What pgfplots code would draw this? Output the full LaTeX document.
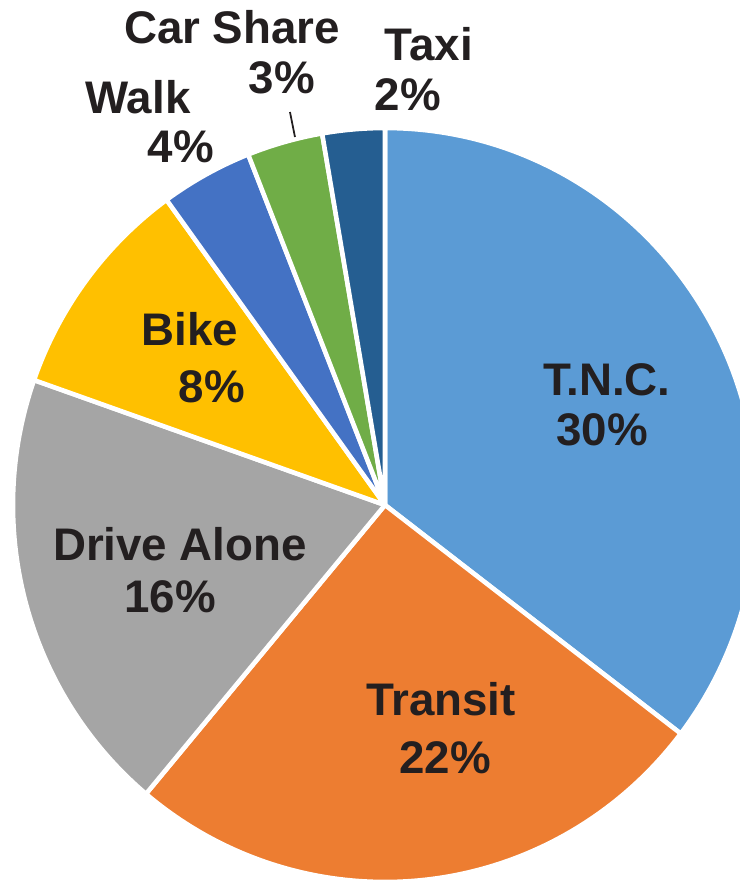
\documentclass[border=0pt]{standalone}
\usepackage{pgfplots}
\usepackage{pgfplotstable}
\pgfplotsset{compat=1.18}
\usepackage{fontspec}
\setmainfont{Liberation Sans}
\definecolor{cTNC}{HTML}{5B9BD5}
\definecolor{cTransit}{HTML}{ED7D31}
\definecolor{cDrive}{HTML}{A5A5A5}
\definecolor{cBike}{HTML}{FFC000}
\definecolor{cWalk}{HTML}{4472C4}
\definecolor{cCar}{HTML}{70AD47}
\definecolor{cTaxi}{HTML}{255E91}
\definecolor{txt}{HTML}{231F20}
\tikzset{lab/.style={anchor=base, inner sep=0pt, text=txt,
    font=\bfseries\fontsize{13pt}{15pt}\selectfont}}

% slice sizes as read from the slice angles of the picture
\pgfplotstableread{
mode value colour
TNC 30.1 cTNC
Transit 21.9 cTransit
DriveAlone 16.4 cDrive
Bike 8.2 cBike
Walk 3.4 cWalk
CarShare 2.8 cCar
Taxi 2.3 cTaxi
}\piedata

% slice angles computed from the table (outside the axis)
\newcommand{\computeslices}{%
  \gdef\total{0}%
  \pgfplotsforeachungrouped \i in {0,...,6}{%
    \pgfplotstablegetelem{\i}{value}\of\piedata
    \pgfmathparse{\total+\pgfplotsretval}\xdef\total{\pgfmathresult}%
  }%
  \gdef\cum{0}%
  \pgfplotsforeachungrouped \i in {0,...,6}{%
    \pgfplotstablegetelem{\i}{value}\of\piedata \let\val\pgfplotsretval
    \pgfmathparse{90-360*(\cum/\total)}\expandafter\xdef\csname sA\i\endcsname{\pgfmathresult}%
    \pgfmathparse{\cum+\val}\xdef\cum{\pgfmathresult}%
    \pgfmathparse{90-360*(\cum/\total)}\expandafter\xdef\csname eA\i\endcsname{\pgfmathresult}%
  }%
}

\begin{document}
\begin{tikzpicture}
\computeslices
\begin{axis}[at={(0,0)}, anchor=south west, scale only axis,
  width=7.4cm, height=8.85cm,
  xmin=0, xmax=740, ymin=0, ymax=885, y dir=reverse,
  hide axis, clip=true]
\pgfplotsforeachungrouped \i in {0,...,6}{%
  \pgfplotstablegetelem{\i}{colour}\of\piedata \let\col\pgfplotsretval
  \edef\temp{\noexpand\filldraw[fill=\col, draw=white, line width=1.3pt, line join=round]
    (axis cs:385,505) -- ++(\csname sA\i\endcsname:3.72cm and 3.77cm)
    arc[start angle=\csname sA\i\endcsname, end angle=\csname eA\i\endcsname, x radius=3.72cm, y radius=3.77cm] -- cycle;}%
  \temp
}
\draw[txt, line width=0.5pt] (axis cs:290,112) -- (axis cs:295,137);
\node[lab] at (axis cs:607,395) {T.N.C.};
\node[lab] at (axis cs:602,445) {30\%};
\node[lab] at (axis cs:441,715) {Transit};
\node[lab] at (axis cs:445,773) {22\%};
\node[lab] at (axis cs:180,560) {Drive Alone};
\node[lab] at (axis cs:170,612) {16\%};
\node[lab] at (axis cs:190,345) {Bike};
\node[lab] at (axis cs:212,402) {8\%};
\node[lab] at (axis cs:138,113) {Walk};
\node[lab] at (axis cs:181,162) {4\%};
\node[lab] at (axis cs:232,43) {Car Share};
\node[lab] at (axis cs:282,93) {3\%};
\node[lab] at (axis cs:429,60) {Taxi};
\node[lab] at (axis cs:408,110) {2\%};
\end{axis}
\pgfresetboundingbox
\useasboundingbox (0,0) rectangle (7.4cm,8.85cm);
\end{tikzpicture}
\end{document}
